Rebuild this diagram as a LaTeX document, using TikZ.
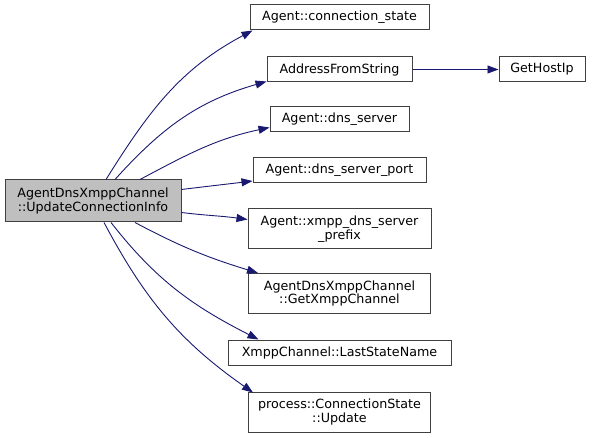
\documentclass[tikz,border=0pt]{standalone}
\usepackage{fontspec}
\setmainfont{DejaVu Sans}
\usetikzlibrary{arrows.meta}
\definecolor{edgeblue}{HTML}{191970}
\definecolor{boxline}{HTML}{404040}
\tikzset{
    fn/.style={draw=boxline, line width=1pt, fill=white, inner sep=0pt, minimum height=25pt,
        align=center, font=\fontsize{12.7}{13.5}\selectfont},
    fnmain/.style={fn, fill=black!25},
    call/.style={draw=edgeblue, line width=0.9pt, -{Triangle[length=11pt,width=8pt]}}
}
\begin{document}
\begin{tikzpicture}[x=1pt, y=1pt]
        \useasboundingbox (0,0) rectangle (592,437);
        %nodo chiamante
        \node[fnmain, minimum width=176pt, minimum height=42pt] (main) at (93,236) {AgentDnsXmppChannel\\::UpdateConnectionInfo};

        %funzioni chiamate
        \node[fn, minimum width=179pt] (connstate) at (339.5,419.5) {Agent::connection\_state};
        \node[fn, minimum width=145pt] (addrstr) at (339.5,367.5) {AddressFromString};
        \node[fn, minimum width=86pt] (hostip) at (542,367.5) {GetHostIp};
        \node[fn, minimum width=139pt] (dnsserver) at (339.5,317.5) {Agent::dns\_server};
        \node[fn, minimum width=173pt] (dnsport) at (339.5,267) {Agent::dns\_server\_port};
        \node[fn, minimum width=183pt, minimum height=40pt] (dnsprefix) at (339.5,208) {Agent::xmpp\_dns\_server\\\_prefix};
        \node[fn, minimum width=182pt, minimum height=40pt] (getchan) at (339.5,143.5) {AgentDnsXmppChannel\\::GetXmppChannel};
        \node[fn, minimum width=223pt] (laststate) at (339.5,84.5) {XmppChannel::LastStateName};
        \node[fn, minimum width=182pt, minimum height=40pt] (csupdate) at (339.5,25) {process::ConnectionState\\::Update};

        %chiamate
        \draw[call] ([xshift=13pt]main.north) to[out=58, in=208] ([xshift=3pt]connstate.south west);
        \draw[call] ([xshift=22pt]main.north) to[out=48, in=196] ([yshift=1pt]addrstr.south west);
        \draw[call] ([xshift=47pt]main.north) to[out=28, in=192] ([yshift=5pt]dnsserver.south west);
        \draw[call] ([yshift=-10pt]main.north east) to[out=7, in=187] ([yshift=2pt]dnsport.south west);
        \draw[call] ([yshift=10pt]main.south east) to[out=-7, in=172] ([yshift=-11pt]dnsprefix.north west);
        \draw[call] ([xshift=42pt]main.south) to[out=-28, in=163] ([xshift=10pt]getchan.north west);
        \draw[call] ([xshift=18pt]main.south) to[out=-52, in=153] ([xshift=31pt]laststate.north west);
        \draw[call] ([xshift=11pt]main.south) to[out=-62, in=145] ([xshift=5pt, yshift=-1pt]csupdate.north west);
        \draw[call] (addrstr) -- (hostip);
\end{tikzpicture}
\end{document}
